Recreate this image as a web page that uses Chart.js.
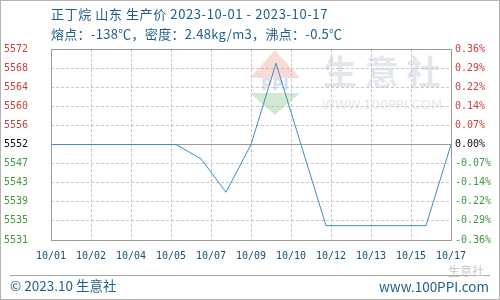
<!DOCTYPE html>
<html><head><meta charset="utf-8">
<script src="https://cdn.jsdelivr.net/npm/chart.js@4"></script>
<style>
body{margin:0;background:#fff;}
#wrap{position:relative;width:500px;height:300px;overflow:hidden;}
#frame{position:absolute;left:0;top:0;width:500px;height:300px;box-sizing:border-box;border:1px solid #b4b4b4;pointer-events:none;}
.t{position:absolute;font-family:"Noto Sans CJK SC","Noto Sans",sans-serif;color:#1f5f87;white-space:nowrap;}
#foot{position:absolute;left:10px;top:275px;width:480px;height:0;border-top:1px solid #a8a8a8;}
</style></head>
<body>
<div id="wrap">
<canvas id="c" width="500" height="300"></canvas>
<div class="t" style="left:51px;top:5px;font-size:13px;line-height:18px;letter-spacing:0.6px;">正丁烷 山东 生产价 2023-10-01 - 2023-10-17</div>
<div class="t" style="left:51px;top:25px;font-size:13px;line-height:18px;letter-spacing:0.3px;">熔点：-138℃，密度：2.48kg/m3，沸点：-0.5℃</div>
<div id="foot"></div>
<div class="t" style="left:10px;top:276px;font-size:13.5px;line-height:18px;">© 2023.10 生意社</div>
<div class="t" style="right:11px;top:277px;font-size:13.5px;line-height:18px;">www.100PPI.com</div>
<div class="t" style="left:448px;top:264px;font-size:12px;line-height:14px;color:#c8c8c8;">生意社</div>
<div id="frame"></div>
</div>
<script>
const days = [1,2,3,4,5,6,7,8,9,10,12,13,14,15,16,17];
const prices = [5552,5552,5552,5552,5552,5552,5549,5542,5552,5569,5535,5535,5535,5535,5535,5552];
const xTickLabels = ['10/01','10/02','10/04','10/05','10/07','10/09','10/10','10/12','10/13','10/15','10/17'];
const yTickLabels = ['5572','5568','5564','5560','5556','5552','5547','5543','5539','5535','5531'];
const pctTickLabels = ['0.36%','0.29%','0.22%','0.14%','0.07%','0.00%','-0.07%','-0.14%','-0.22%','-0.29%','-0.36%'];
const basePrice = 5552;
const yMin = 5532, yMax = 5572;

const RED = '#c8413c', GREEN = '#3f9a3f', BLACK = '#111';
function tickColor(i){ return i < 5 ? RED : (i === 5 ? BLACK : GREEN); }
const yTickVals = yTickLabels.map((_, i) => yMax - i * (yMax - yMin) / (yTickLabels.length - 1));
const xTickVals = xTickLabels.map((_, i) => days[0] + i * (days[days.length-1] - days[0]) / (xTickLabels.length - 1));
const tickFont = {family: 'DejaVu Sans Mono', size: 10};

const watermark = {
  id: 'watermark',
  beforeDatasetsDraw(chart){
    const ctx = chart.ctx;
    ctx.save();
    ctx.fillStyle = 'rgba(235,150,140,0.35)';
    ctx.beginPath(); ctx.moveTo(275,50); ctx.lineTo(250,78); ctx.lineTo(300,78); ctx.closePath(); ctx.fill();
    ctx.fillStyle = 'rgba(130,190,130,0.35)';
    ctx.beginPath(); ctx.moveTo(250,93); ctx.lineTo(300,93); ctx.lineTo(275,115); ctx.closePath(); ctx.fill();
    ctx.fillStyle = 'rgba(140,160,200,0.35)';
    ctx.font = 'bold 15px "DejaVu Sans"';
    ctx.textAlign = 'center'; ctx.textBaseline = 'middle';
    ctx.fillText('PPI', 275, 86);
    ctx.fillStyle = 'rgba(190,200,215,0.45)';
    ctx.font = 'bold 34px "Noto Sans CJK SC"';
    ctx.textAlign = 'left';
    ctx.fillText('生 意 社', 323, 72);
    ctx.fillStyle = 'rgba(200,200,200,0.45)';
    ctx.font = '13px "DejaVu Sans"';
    ctx.fillText('WWW.100PPI.COM', 322, 106);
    ctx.restore();
  },
  afterDraw(chart){
    const a = chart.chartArea, ctx = chart.ctx;
    ctx.save();
    ctx.strokeStyle = '#9a9a9a'; ctx.lineWidth = 1;
    ctx.strokeRect(Math.round(a.left)+0.5, Math.round(a.top)+0.5, Math.round(a.right-a.left), Math.round(a.bottom-a.top));
    ctx.restore();
  }
};

new Chart(document.getElementById('c'), {
  type: 'line',
  data: {
    datasets: [{
      data: days.map((d, i) => ({x: d, y: prices[i]})),
      borderColor: '#3c8ebf',
      borderWidth: 1,
      pointRadius: 0,
      tension: 0,
      fill: false
    }]
  },
  options: {
    responsive: false,
    animation: false,
    layout: {padding: {top: 49, left: 0, right: 0, bottom: 0}},
    plugins: {legend: {display: false}, tooltip: {enabled: false}},
    scales: {
      x: {
        type: 'linear', min: days[0], max: days[days.length-1],
        afterBuildTicks: s => { s.ticks = xTickVals.map(v => ({value: v})); },
        afterFit: s => { s.height = 60; },
        ticks: {
          autoSkip: false, maxRotation: 0, padding: 10,
          font: tickFont, color: '#1d4f6e',
          callback: (v, i) => xTickLabels[i]
        },
        grid: {color: '#c8c8c8', drawTicks: false},
        border: {display: false, dash: [3,2]}
      },
      y: {
        type: 'linear', position: 'left', min: yMin, max: yMax,
        afterBuildTicks: s => { s.ticks = yTickVals.map(v => ({value: v})); },
        afterFit: s => { s.width = 51; },
        ticks: {
          autoSkip: false, padding: 23, font: tickFont,
          color: c => tickColor(c.index),
          callback: (v, i) => yTickLabels[i]
        },
        grid: {
          drawTicks: false,
          color: c => (c.index === 5 ? '#9a9a9a' : '#c8c8c8')
        },
        border: {display: false, dash: c => (c.index === 5 ? [] : [3,2])}
      },
      y2: {
        type: 'linear', position: 'right', min: yMin, max: yMax,
        afterBuildTicks: s => { s.ticks = yTickVals.map(v => ({value: v})); },
        afterFit: s => { s.width = 49; },
        ticks: {
          autoSkip: false, padding: 4, font: tickFont,
          color: c => tickColor(c.index),
          callback: (v, i) => pctTickLabels[i]
        },
        grid: {drawOnChartArea: false, drawTicks: false},
        border: {display: false}
      }
    }
  },
  plugins: [watermark]
});
</script>
</body></html>
